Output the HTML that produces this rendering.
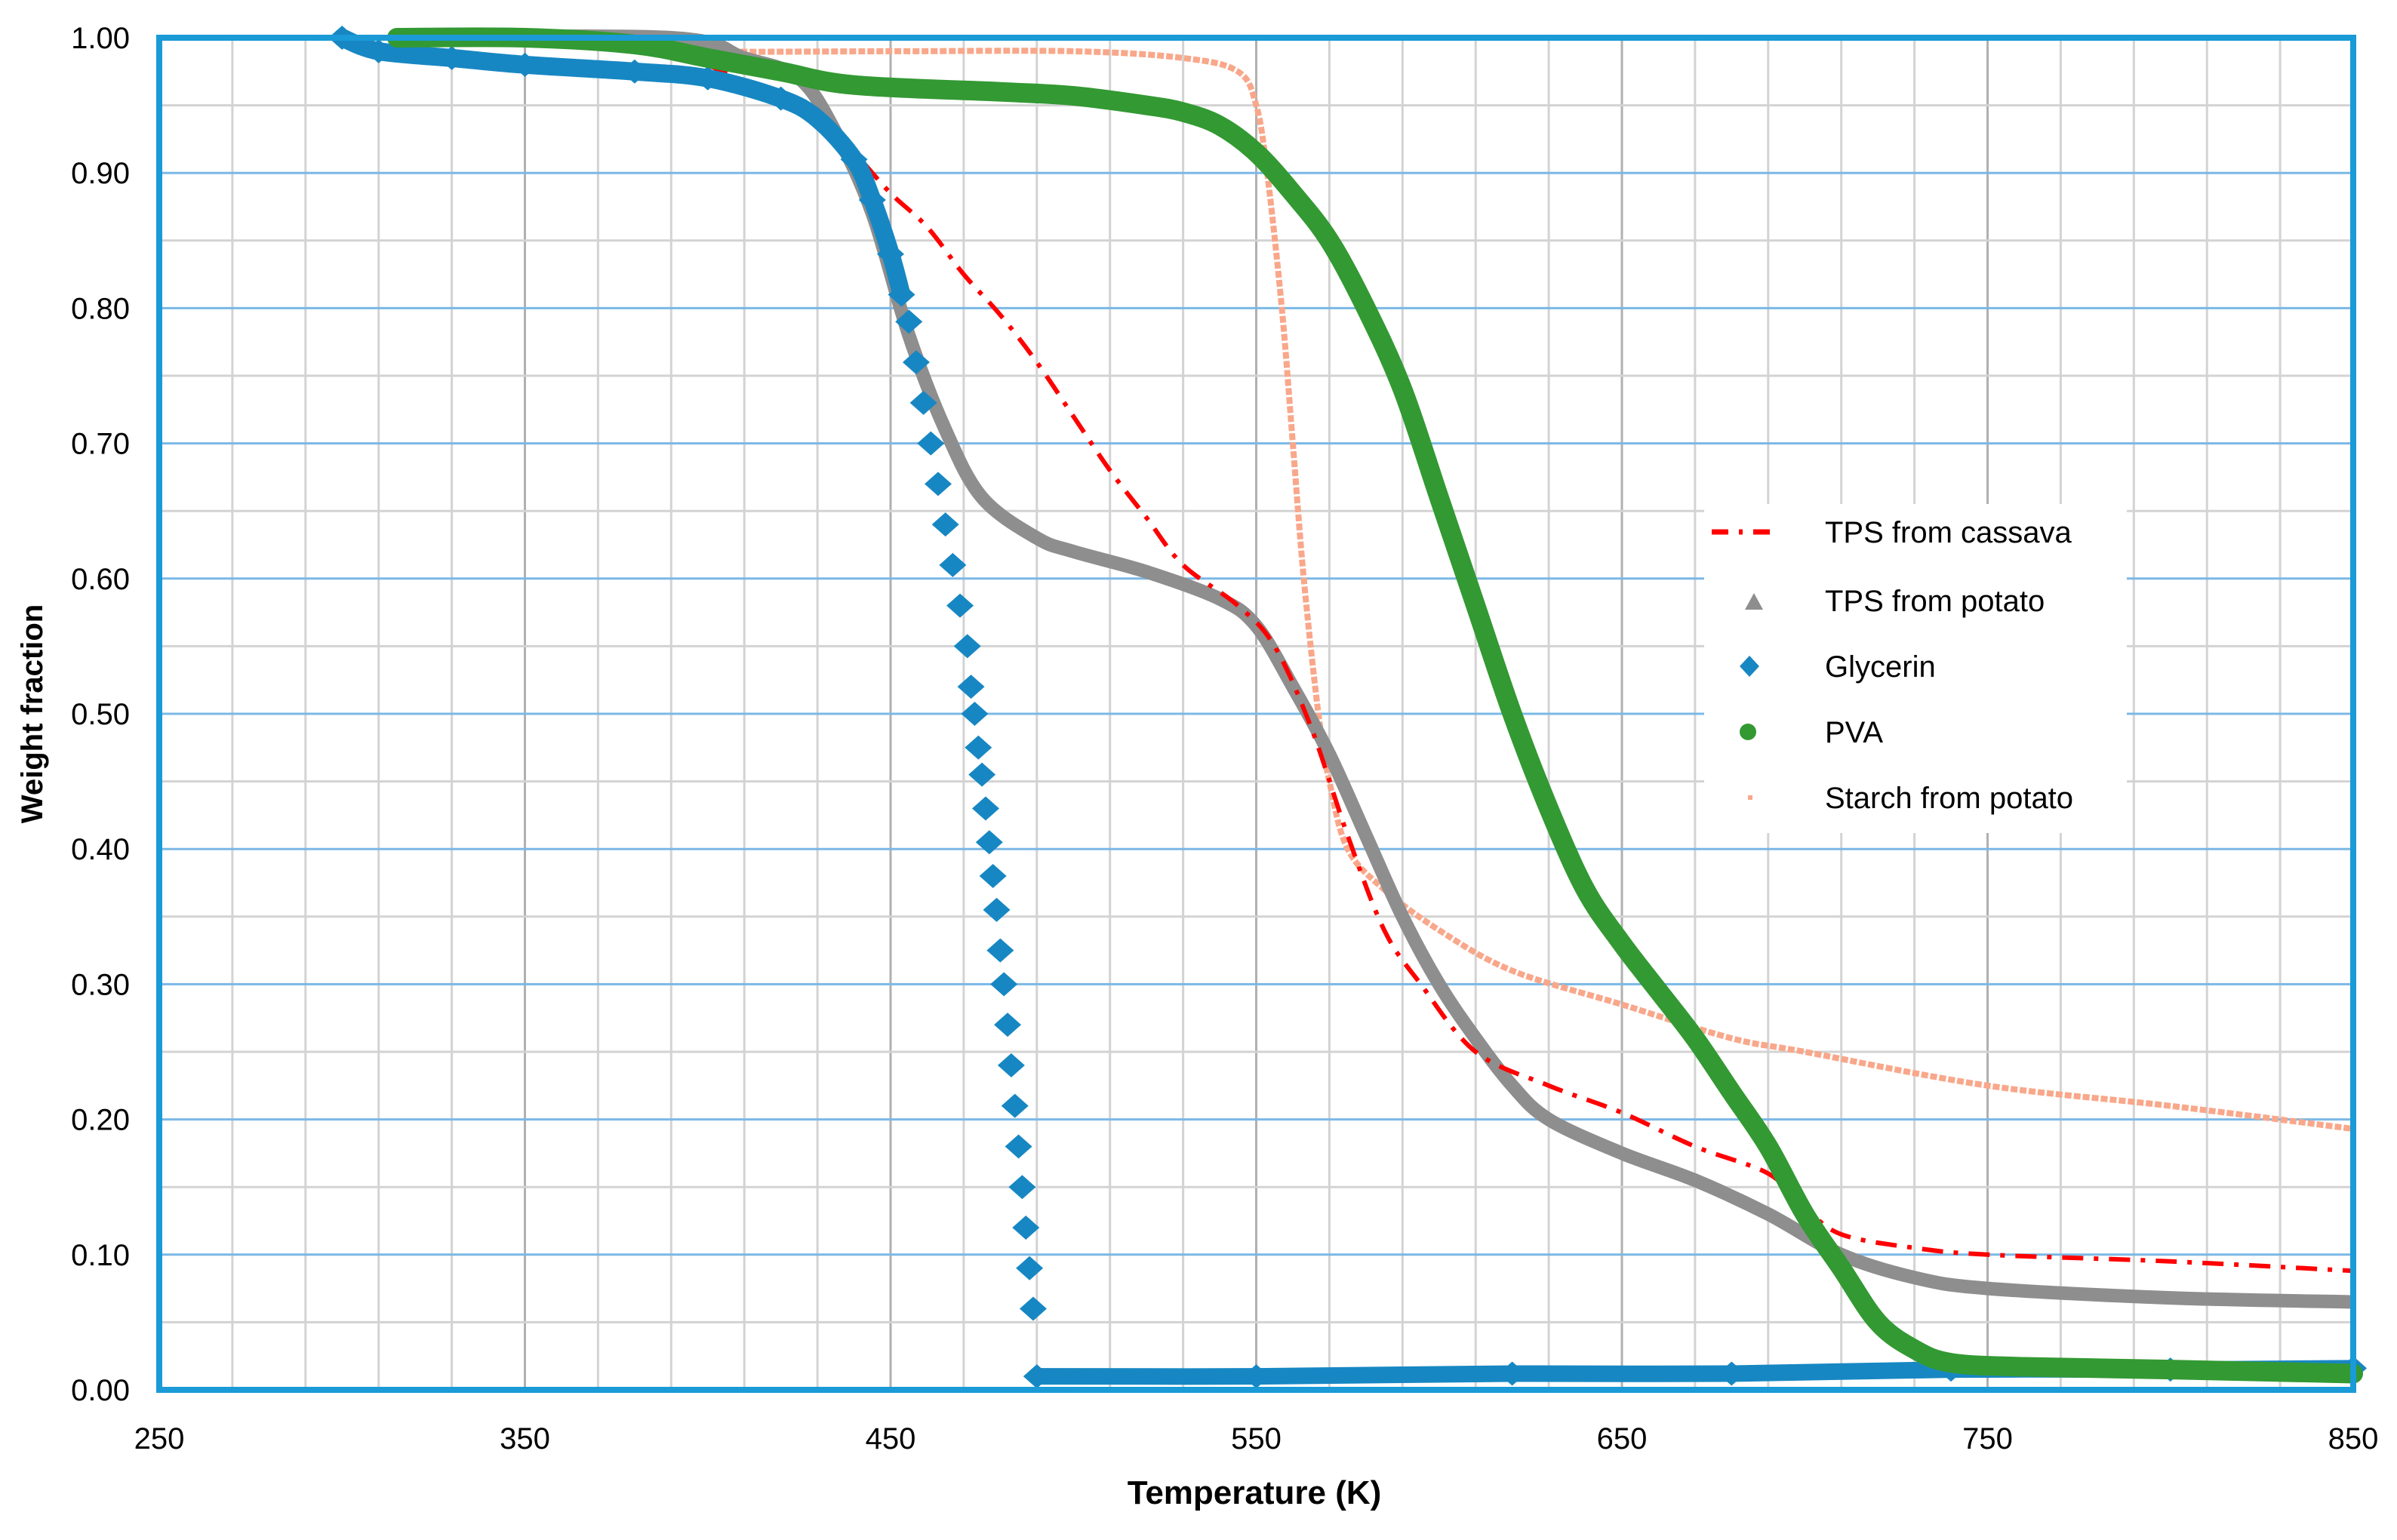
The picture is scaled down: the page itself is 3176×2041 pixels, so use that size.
<!DOCTYPE html>
<html><head><meta charset="utf-8"><style>
html,body{margin:0;padding:0;background:#fff;}
svg text{font-family:"Liberation Sans",sans-serif;fill:#000;}
</style></head><body>
<svg id="chart" width="3176" height="2036" viewBox="0 0 3176 2036" xmlns="http://www.w3.org/2000/svg">
<g id="grid"></g>
<g id="series"></g>
<g id="frame"></g>
<g id="ticks"></g>
<text x="1662" y="1993" text-anchor="middle" font-size="44" font-weight="bold">Temperature (K)</text>
<text transform="translate(56,946) rotate(-90)" text-anchor="middle" font-size="40" font-weight="bold">Weight fraction</text>
<g id="legend"></g>
</svg>
<script>
const xTicks=[250,350,450,550,650,750,850];
const yTicks=[0,0.1,0.2,0.3,0.4,0.5,0.6,0.7,0.8,0.9,1.0];
const yTickLabels=["0.00","0.10","0.20","0.30","0.40","0.50","0.60","0.70","0.80","0.90","1.00"];
const glyT=[300,310,330,350,380,400,420,430,440,445,450,453,455,457,459,461,463,465,467,469,471,472,473,474,475,476,477,478,479,480,481,482,483,484,485,486,487,488,489,490,550,620,680,740,800,850];
const glyW=[1.0,0.99,0.985,0.98,0.975,0.97,0.955,0.94,0.91,0.88,0.84,0.81,0.79,0.76,0.73,0.70,0.67,0.64,0.61,0.58,0.55,0.52,0.50,0.475,0.455,0.43,0.405,0.38,0.355,0.325,0.30,0.27,0.24,0.21,0.18,0.15,0.12,0.09,0.06,0.01,0.01,0.012,0.012,0.015,0.015,0.016];
const pvaT=[315,350,380,400,420,440,480,500,520,530,540,550,560,570,580,590,600,610,620,630,640,650,660,670,680,690,700,710,720,730,740,760,800,850];
const pvaW=[1.0,1.0,0.995,0.985,0.975,0.965,0.96,0.957,0.95,0.945,0.935,0.915,0.885,0.85,0.80,0.74,0.66,0.58,0.50,0.43,0.37,0.33,0.295,0.26,0.22,0.18,0.13,0.09,0.05,0.03,0.02,0.017,0.015,0.012];
const stT=[315,380,400,450,500,530,545,550,553,557,560,563,567,570,575,585,600,620,650,680,700,750,800,850];
const stW=[1.0,0.995,0.99,0.99,0.99,0.985,0.975,0.95,0.90,0.80,0.70,0.60,0.50,0.45,0.40,0.37,0.34,0.31,0.285,0.26,0.25,0.225,0.21,0.193];
const potT=[315,390,410,425,435,445,455,465,475,490,500,520,540,550,560,570,580,590,600,610,620,630,650,670,690,710,730,750,800,850];
const potW=[1.0,1.0,0.985,0.97,0.93,0.87,0.78,0.71,0.66,0.63,0.62,0.605,0.585,0.565,0.52,0.47,0.41,0.35,0.30,0.26,0.225,0.20,0.175,0.155,0.13,0.10,0.083,0.075,0.068,0.065];
const casT=[400,430,440,450,460,470,480,490,500,510,520,530,545,555,565,575,585,595,610,630,650,670,690,700,710,730,750,800,850];
const casW=[0.98,0.94,0.915,0.885,0.86,0.825,0.795,0.76,0.72,0.68,0.645,0.61,0.58,0.55,0.49,0.41,0.34,0.30,0.25,0.225,0.205,0.18,0.16,0.135,0.115,0.105,0.10,0.095,0.088];

const X0=211,X1=3118,Y0=1842,Y1=50;
const sx=t=>X0+(t-250)/600*(X1-X0);
const sy=w=>Y0-w*(Y0-Y1);
const NS="http://www.w3.org/2000/svg";
function mk(tag,attrs,parent){const e=document.createElementNS(NS,tag);for(const k in attrs)e.setAttribute(k,attrs[k]);parent.appendChild(e);return e;}
function smooth(T,W){const P=T.map((t,i)=>[sx(t),sy(W[i])]);let d='M'+P[0][0]+','+P[0][1];
for(let i=0;i<P.length-1;i++){const p0=P[Math.max(0,i-1)],p1=P[i],p2=P[i+1],p3=P[Math.min(P.length-1,i+2)];
const c1=[p1[0]+(p2[0]-p0[0])/6,p1[1]+(p2[1]-p0[1])/6],c2=[p2[0]-(p3[0]-p1[0])/6,p2[1]-(p3[1]-p1[1])/6];
d+=` C${c1[0]},${c1[1]} ${c2[0]},${c2[1]} ${p2[0]},${p2[1]}`;}return d;}
const grid=document.getElementById('grid');
for(let t=250;t<=850;t+=20){const l=mk('line',{x1:sx(t),x2:sx(t),y1:Y1,y2:Y0,stroke:(t-250)%100===0?'#b0b0b0':'#d3d3d3','stroke-width':3},grid);

}
for(let i=1;i<20;i++){const w=i*0.05;const major=i%2===0;const l=mk('line',{x1:X0,x2:X1,y1:sy(w),y2:sy(w),stroke:major?'#7ab8e6':'#d3d3d3','stroke-width':3},grid);

}
const fr=document.getElementById('frame');
const rc=mk('rect',{x:X0,y:Y1,width:X1-X0,height:Y0-Y1,fill:'none',stroke:'#1a9ad6','stroke-width':8},fr);


const tk=document.getElementById('ticks');
xTicks.forEach(t=>{const e=mk('text',{x:sx(t),y:1920,'text-anchor':'middle','font-size':40},tk);e.textContent=t;

});
yTicks.forEach((w,i)=>{const e=mk('text',{x:172,y:sy(w)+14,'text-anchor':'end','font-size':40},tk);e.textContent=yTickLabels[i];

});
const sg=document.getElementById('series');
// starch
let g=mk('g',{},sg);


mk('path',{d:smooth(stT,stW),fill:'none',stroke:'#f9a78a','stroke-width':8,'stroke-dasharray':'9 3'},g);
// potato
g=mk('g',{},sg);


mk('path',{d:smooth(potT,potW),fill:'none',stroke:'#8e8e8e','stroke-width':18,'stroke-linejoin':'round'},g);
// cassava
g=mk('g',{},sg);


mk('path',{d:smooth(casT,casW),fill:'none',stroke:'#ff0000','stroke-width':6,'stroke-dasharray':'28 14 6 14'},g);
// glycerin
g=mk('g',{},sg);


mk('path',{d:smooth(glyT.slice(0,12),glyW.slice(0,12)),fill:'none',stroke:'#1787c3','stroke-width':24,'stroke-linejoin':'round','stroke-linecap':'round'},g);
mk('path',{d:smooth(glyT.slice(39),glyW.slice(39)),fill:'none',stroke:'#1787c3','stroke-width':22,'stroke-linecap':'round'},g);
glyT.forEach((t,i)=>{const x=sx(t),y=sy(glyW[i]);const d=mk('polygon',{points:`${x-18},${y} ${x},${y-16} ${x+18},${y} ${x},${y+16}`,fill:'#1787c3'},g);

});
// pva
g=mk('g',{},sg);


mk('path',{d:smooth(pvaT,pvaW),fill:'none',stroke:'#339933','stroke-width':26,'stroke-linejoin':'round','stroke-linecap':'round'},g);
// legend
const lg=document.getElementById('legend');
mk('rect',{x:2258,y:668,width:560,height:436,fill:'#fff'},lg);
const names=["TPS from cassava","TPS from potato","Glycerin","PVA","Starch from potato"];
const ly=[705,796,883,970,1057];
names.forEach((n,i)=>{const e=mk('text',{x:2418,y:ly[i]+14,'font-size':40},lg);e.textContent=n;

});
mk('line',{x1:2268,x2:2350,y1:705,y2:705,stroke:'#ff0000','stroke-width':7,'stroke-dasharray':'22 14 5 14'},lg);
mk('polygon',{points:'2312,808 2336,808 2324,786',fill:'#8e8e8e'},lg);
mk('polygon',{points:'2305,883 2318,869 2331,883 2318,897',fill:'#1787c3'},lg);
mk('circle',{cx:2316,cy:970,r:11,fill:'#339933'},lg);
mk('rect',{x:2316,y:1054,width:6,height:6,fill:'#f9a78a'},lg);
</script>
</body></html>
